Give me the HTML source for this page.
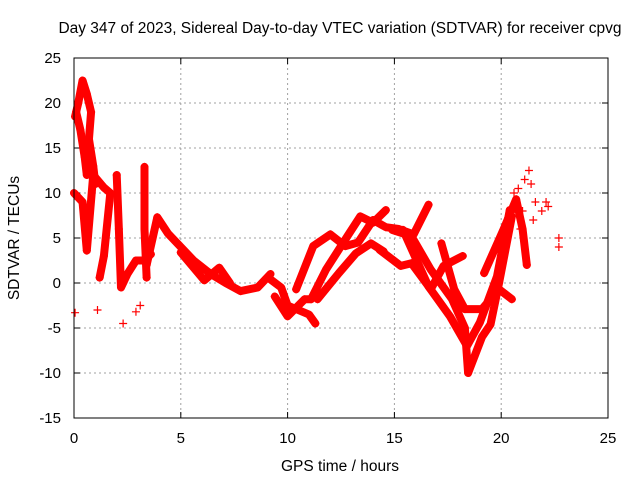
<!DOCTYPE html>
<html><head><meta charset="utf-8"><style>
body{margin:0;background:#fff;}
svg{display:block;font-family:"Liberation Sans",sans-serif;}
</style></head><body>
<svg id="c" width="640" height="480">
<text x="340" y="33" text-anchor="middle" font-size="15.5">Day 347 of 2023, Sidereal Day-to-day VTEC variation (SDTVAR) for receiver cpvg</text>
<text x="340" y="471" text-anchor="middle" font-size="15.5">GPS time / hours</text>
<text transform="translate(19,238) rotate(-90)" text-anchor="middle" font-size="15.5">SDTVAR / TECUs</text>
<g id="grid"></g>
<g id="ticks"></g>
<g id="marks"></g>
<rect x="74" y="58" width="534" height="360" fill="none" stroke="#000" stroke-width="1"/>
</svg>
<script>
const xTicks=[0,5,10,15,20,25];
const yTicks=[-15,-10,-5,0,5,10,15,20,25];
const trackEarly=[[0.05,18.5],[0.2,20],[0.4,22.5],[0.6,21],[0.8,19],[0.7,16],[0.9,13],[1.0,11]];
const trackEarly1=[[0.1,19],[0.3,17],[0.5,14],[0.6,12]];
const trackEarly2=[[0,10],[0.4,9],[0.6,3.6],[0.9,12],[1.4,10.6],[1.7,10],[1.4,3],[1.2,0.6]];
const trackEarly3=[[2.0,12],[2.1,6],[2.2,-0.5],[2.5,1],[2.9,2.5],[3.3,2.5],[3.6,3.2]];
const trackEarly4=[[3.3,12.9],[3.3,6],[3.4,0.6]];
const trackDecay=[[3.4,2],[3.9,7.3],[4.4,5.5],[5,4],[5.6,2.5],[6.4,1],[7.1,0],[7.8,-0.9],[8.6,-0.5],[9.2,1]];
const trackDecay2=[[5,3.4],[6.1,0.3],[6.8,1.7],[7.3,0]];
const trackA=[[9.2,0.4],[9.7,-0.5],[10,-2.5],[10.5,-3],[11,-3.5],[11.3,-4.5]];
const trackB=[[9.4,-1.5],[10,-3.7],[10.8,-1.8],[11.1,-1.8],[11.8,1.5],[12.8,5.2],[13.4,7.4],[14,6.7],[14.6,8.1]];
const trackC=[[10.4,-0.7],[11.2,4.1],[12,5.4],[12.7,4.1],[13.3,4.5],[14,7],[14.6,6.2],[15.2,6],[15.9,5.4],[16.6,8.7]];
const trackD=[[11.4,-1.8],[12.4,1.1],[13.2,3.3],[13.9,4.4],[14.5,3.5]];
const trackE=[[14.3,3.7],[15.3,1.9],[15.8,2.2],[16.7,-0.7],[17.3,1.9],[18.2,3]];
const trackF=[[14.9,5.9],[15.8,5.2],[16.7,1.5],[17.7,-1.8],[18.3,-5],[18.45,-10],[19.1,-6],[19.5,-4.6],[19.9,0],[20.5,7.4]];
const trackG=[[15.4,5.9],[16.6,-0.4],[17.6,-3.7],[18.4,-7],[19,-4.4],[19.8,0.7],[20.4,8.1]];
const trackH=[[17.2,4.4],[17.8,-0.7],[18.3,-2.9],[19.1,-2.9],[19.9,-0.7],[20.5,-1.8]];
const trackI=[[19.2,1.1],[20.1,5.9],[20.7,9.3],[21.0,6],[21.2,2]];
const scatterT=[0.05,1.1,2.3,2.9,3.1,20.6,20.8,21.1,21.3,21.4,21.6,21.9,22.1,22.2,22.7,22.7,21.5,21.0,20.9];
const scatterV=[-3.3,-3,-4.5,-3.2,-2.5,10,10.5,11.5,12.5,11,9,8,9,8.5,4,5,7,8,6];
const tracks=[trackEarly,trackEarly1,trackEarly2,trackEarly3,trackEarly4,trackDecay,trackDecay2,trackA,trackB,trackC,trackD,trackE,trackF,trackG,trackH,trackI];
const X=h=>74+h*(534/25), Y=v=>283-v*9;
const NS='http://www.w3.org/2000/svg';
const mk=(t,a,p)=>{const e=document.createElementNS(NS,t);for(const k in a)e.setAttribute(k,a[k]);p.appendChild(e);return e;};
const g=document.getElementById('grid'),tk=document.getElementById('ticks'),m=document.getElementById('marks');
xTicks.forEach(t=>{
  if(t>0&&t<25){const l=mk('line',{x1:X(t),x2:X(t),y1:58,y2:418,stroke:'#a0a0a0','stroke-dasharray':'2,3'},g);
  
  }
  mk('line',{x1:X(t),x2:X(t),y1:418,y2:412,stroke:'#000'},tk);
  mk('line',{x1:X(t),x2:X(t),y1:58,y2:64,stroke:'#000'},tk);
  const tx=mk('text',{x:X(t),y:443,'text-anchor':'middle','font-size':15},tk);tx.textContent=t;
  
  
});
yTicks.forEach(t=>{
  if(t>-15&&t<25){const l=mk('line',{x1:74,x2:608,y1:Y(t),y2:Y(t),stroke:'#a0a0a0','stroke-dasharray':'2,3'},g);
  
  }
  mk('line',{x1:74,x2:80,y1:Y(t),y2:Y(t),stroke:'#000'},tk);
  mk('line',{x1:608,x2:602,y1:Y(t),y2:Y(t),stroke:'#000'},tk);
  const tx=mk('text',{x:61,y:Y(t)+5,'text-anchor':'end','font-size':15},tk);tx.textContent=t;
  
  
});
function plus(h,v){const x=X(h),y=Y(v);
  const p=mk('path',{d:`M${x-4},${y}H${x+4}M${x},${y-4}V${y+4}`,stroke:'#f00','stroke-width':1.2},m);
  
  }
tracks.forEach(tr=>{
  const pl=mk('polyline',{points:tr.map(p=>X(p[0])+','+Y(p[1])).join(' '),fill:'none',stroke:'#f00','stroke-width':8,'stroke-linejoin':'round','stroke-linecap':'round'},m);
  
  
  tr.forEach(p=>plus(p[0],p[1]));
});
scatterT.forEach((t,i)=>plus(t,scatterV[i]));
</script>
</body></html>
